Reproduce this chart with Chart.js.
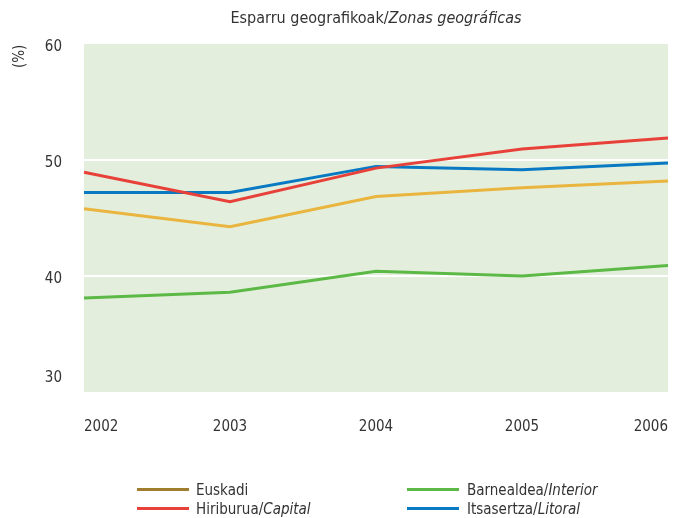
<!DOCTYPE html>
<html>
<head>
<meta charset="utf-8">
<script src="https://cdn.jsdelivr.net/npm/chart.js@4/dist/chart.umd.min.js"></script>
<style>
  html, body { margin: 0; padding: 0; background: #fff; }
  #wrap { position: relative; width: 674px; height: 518px; font-family: "DejaVu Sans Condensed", sans-serif; color: #333; }
  canvas { position: absolute; left: 0; top: 0; }
  #title { position: absolute; left: 84px; width: 584px; top: 8px; text-align: center; font-size: 16px; }
  #unit { position: absolute; left: 10px; font-size: 15px; transform: rotate(-90deg); transform-origin: left top; top: 68px; }
  .leg { position: absolute; font-size: 15px; line-height: 18px; white-space: nowrap; }
  .sw { position: absolute; width: 52px; height: 3px; }
</style>
</head>
<body>
<div id="wrap">
  <canvas id="c" width="674" height="518"></canvas>
  <div id="title">Esparru geografikoak/<i>Zonas geográficas</i></div>
  <div id="unit">(%)</div>
  <div id="legend"></div>
</div>
<script>
const years = ["2002", "2003", "2004", "2005", "2006"];
const euskadi = [45.8, 44.25, 46.85, 47.6, 48.2];
const hiriburua = [48.95, 46.4, 49.3, 50.95, 51.9];
const barnealdea = [38.1, 38.6, 40.4, 40.0, 40.9];
const itsasertza = [47.2, 47.2, 49.45, 49.15, 49.75];
const seriesNames = [
  ["Euskadi", ""],
  ["Hiriburua/", "Capital"],
  ["Barnealdea/", "Interior"],
  ["Itsasertza/", "Litoral"]
];
const lineColors = ["#e9b53f", "#e8413a", "#5cb946", "#0a79c4"];
const legendColors = ["#a07d2f", "#e8413a", "#5cb946", "#0a79c4"];
const yTicks = [30, 40, 50, 60];

const FONT = '"DejaVu Sans Condensed", sans-serif';
const TICK_COLOR = '#333';

const bgPlugin = {
  id: 'plotBg',
  beforeDraw(chart) {
    const a = chart.chartArea, ctx = chart.ctx;
    ctx.save();
    ctx.fillStyle = '#e3efdc';
    ctx.fillRect(a.left, a.top, a.right - a.left, a.bottom - a.top);
    ctx.restore();
  },
  // the bottom tick label ("30") sits above the axis floor in the reference
  afterDraw(chart) {
    const s = chart.scales.y, ctx = chart.ctx;
    const v = yTicks[0];
    ctx.save();
    ctx.font = '15px ' + FONT;
    ctx.fillStyle = TICK_COLOR;
    ctx.textAlign = 'right';
    ctx.textBaseline = 'middle';
    ctx.fillText(String(v), s.right - 22, s.getPixelForValue(v) - 14);
    ctx.restore();
  }
};

const chart = new Chart(document.getElementById('c'), {
  type: 'line',
  data: {
    labels: years,
    datasets: [euskadi, hiriburua, barnealdea, itsasertza].map((d, i) => ({
      label: seriesNames[i].join(''),
      data: d,
      borderColor: lineColors[i],
      backgroundColor: lineColors[i],
      borderWidth: 3,
      pointRadius: 0,
      tension: 0,
      fill: false
    }))
  },
  options: {
    responsive: false,
    animation: false,
    layout: { padding: { left: 0, right: 6, top: 44, bottom: 76 } },
    plugins: { legend: { display: false }, tooltip: { enabled: false }, title: { display: false } },
    scales: {
      x: {
        type: 'category',
        offset: false,
        grid: { display: false, drawTicks: false },
        border: { display: false },
        ticks: { align: 'inner', padding: 26, color: TICK_COLOR, maxRotation: 0,
          font: { family: FONT, size: 15 } },
        afterFit(s) { s.height = 50; s.paddingLeft = 0; s.paddingRight = 0; }
      },
      y: {
        min: 30, max: 60,
        afterBuildTicks(s) { s.ticks = yTicks.map(v => ({ value: v })); },
        grid: {
          drawTicks: false,
          color: c => (c.tick && (c.tick.value === 40 || c.tick.value === 50)) ? '#ffffff' : 'rgba(0,0,0,0)',
          lineWidth: 2
        },
        border: { display: false },
        ticks: { padding: 22, labelOffset: 3,
          color: c => (c.tick && c.tick.value === yTicks[0]) ? 'rgba(0,0,0,0)' : TICK_COLOR,
          font: { family: FONT, size: 15 } },
        afterFit(s) { s.width = 84; s.paddingTop = 0; s.paddingBottom = 0; }
      }
    }
  },
  plugins: [bgPlugin]
});

// HTML legend built from the chart's datasets
const legPos = [
  { sx: 137, tx: 196, y: 481 },
  { sx: 137, tx: 196, y: 500 },
  { sx: 407, tx: 467, y: 481 },
  { sx: 407, tx: 467, y: 500 }
];
const legend = document.getElementById('legend');
chart.data.datasets.forEach((ds, i) => {
  const p = legPos[i];
  const sw = document.createElement('div');
  sw.className = 'sw';
  sw.style.left = p.sx + 'px';
  sw.style.top = (p.y + 7) + 'px';
  sw.style.background = legendColors[i];
  legend.appendChild(sw);
  const t = document.createElement('div');
  t.className = 'leg';
  t.style.left = p.tx + 'px';
  t.style.top = p.y + 'px';
  t.appendChild(document.createTextNode(seriesNames[i][0]));
  if (seriesNames[i][1]) {
    const it = document.createElement('i');
    it.textContent = seriesNames[i][1];
    t.appendChild(it);
  }
  legend.appendChild(t);
});
</script>
</body>
</html>
